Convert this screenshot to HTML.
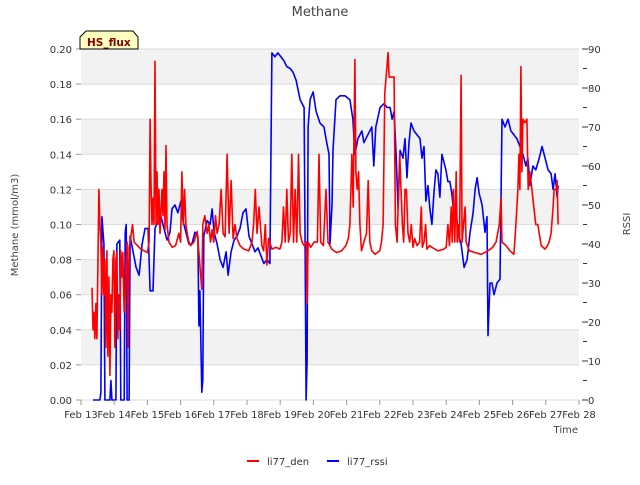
<!DOCTYPE html>
<html><head><meta charset="utf-8"><style>
body{margin:0;background:#fff}
svg text{font-family:"DejaVu Sans","Liberation Sans",sans-serif}
</style></head><body>
<svg id="chart" width="640" height="480" viewBox="0 0 640 480" xmlns="http://www.w3.org/2000/svg">
<g id="bands"></g>
<g id="grid"></g>
<g id="series"></g>
<g id="axes"></g>
<text x="320" y="16" text-anchor="middle" font-size="13" fill="#444">Methane</text>
<g>
<path d="M80,49 L80,37 L86,31 L133,31 L138,37 L138,49 Z" fill="#ffffc0" stroke="#000" stroke-width="1"/>
<text x="87" y="46" font-size="10.5" font-weight="bold" fill="#8b0000">HS_flux</text>
</g>
<text transform="translate(18,225) rotate(-90)" text-anchor="middle" font-size="10" fill="#444">Methane (mmol/m3)</text>
<text transform="translate(630,224) rotate(-90)" text-anchor="middle" font-size="10" fill="#444">RSSI</text>
<text x="578" y="433" text-anchor="end" font-size="10" fill="#444">Time</text>
<g>
<g><line x1="247" y1="461" x2="259" y2="461" stroke="#f00" stroke-width="2"/><text x="267" y="465" font-size="10" fill="#333">li77_den</text></g>
<g><line x1="327" y1="461" x2="339" y2="461" stroke="#00f" stroke-width="2"/><text x="347" y="465" font-size="10" fill="#333">li77_rssi</text></g>
</g>
</svg>
<script>
const xTickLabels=["Feb 13","Feb 14","Feb 15","Feb 16","Feb 17","Feb 18","Feb 19","Feb 20","Feb 21","Feb 22","Feb 23","Feb 24","Feb 25","Feb 26","Feb 27","Feb 28"];
const yTicks=[0,0.02,0.04,0.06,0.08,0.10,0.12,0.14,0.16,0.18,0.20];
const y2Ticks=[0,10,20,30,40,50,60,70,80,90];
const denDays=[0.33,0.36,0.39,0.42,0.45,0.48,0.54,0.57,0.60,0.63,0.66,0.69,0.72,0.75,0.78,0.81,0.84,0.87,0.90,0.93,0.96,0.99,1.02,1.05,1.08,1.11,1.14,1.17,1.20,1.23,1.26,1.30,1.33,1.36,1.39,1.42,1.45,1.48,1.55,1.6,1.7,1.8,2.0,2.05,2.08,2.11,2.14,2.17,2.20,2.23,2.26,2.29,2.32,2.35,2.38,2.44,2.47,2.50,2.53,2.56,2.59,2.65,2.75,2.85,2.95,3.0,3.04,3.08,3.12,3.16,3.20,3.25,3.30,3.40,3.5,3.64,3.67,3.73,3.80,3.85,3.9,3.95,4.0,4.05,4.10,4.16,4.22,4.28,4.34,4.40,4.46,4.52,4.58,4.64,4.70,4.79,4.9,5.05,5.15,5.2,5.25,5.30,5.36,5.40,5.45,5.5,5.55,5.60,5.65,5.75,5.87,5.99,6.05,6.10,6.15,6.20,6.25,6.30,6.35,6.40,6.45,6.50,6.55,6.60,6.66,6.72,6.78,6.81,6.84,6.92,7.02,7.12,7.17,7.22,7.30,7.38,7.44,7.55,7.70,7.85,7.98,8.05,8.10,8.16,8.20,8.25,8.28,8.32,8.36,8.40,8.45,8.52,8.6,8.65,8.70,8.76,8.86,9.0,9.05,9.10,9.15,9.19,9.25,9.28,9.43,9.47,9.52,9.55,9.60,9.64,9.68,9.72,9.76,9.80,9.85,9.9,9.95,10.0,10.05,10.12,10.2,10.25,10.28,10.33,10.38,10.42,10.5,10.57,10.75,10.93,11.0,11.05,11.1,11.15,11.18,11.22,11.26,11.30,11.33,11.36,11.4,11.45,11.48,11.52,11.57,11.6,11.7,11.87,12.05,12.26,12.4,12.5,12.6,12.65,12.68,12.8,12.92,13.04,13.10,13.16,13.19,13.22,13.25,13.28,13.31,13.37,13.43,13.47,13.52,13.58,13.64,13.70,13.76,13.86,13.98,14.05,14.10,14.16,14.22,14.25,14.31,14.34,14.37];
const denValues=[0.064,0.04,0.05,0.035,0.055,0.035,0.12,0.10,0.09,0.06,0.087,0.06,0.08,0.03,0.085,0.025,0.07,0.014,0.06,0.05,0.08,0.085,0.03,0.08,0.084,0.035,0.06,0.04,0.085,0.07,0.084,0.05,0.06,0.08,0.09,0.03,0.087,0.09,0.1,0.09,0.088,0.086,0.084,0.09,0.16,0.12,0.10,0.115,0.10,0.193,0.10,0.13,0.10,0.12,0.095,0.12,0.105,0.13,0.097,0.145,0.10,0.09,0.087,0.088,0.095,0.09,0.13,0.10,0.12,0.10,0.095,0.09,0.088,0.09,0.096,0.063,0.1,0.105,0.095,0.1,0.09,0.097,0.09,0.105,0.095,0.1,0.12,0.095,0.093,0.14,0.095,0.125,0.092,0.1,0.092,0.088,0.086,0.085,0.09,0.1,0.12,0.095,0.11,0.1,0.088,0.085,0.1,0.077,0.092,0.086,0.087,0.086,0.09,0.11,0.09,0.12,0.09,0.095,0.14,0.09,0.12,0.09,0.14,0.095,0.09,0.088,0.09,0.055,0.09,0.087,0.09,0.09,0.14,0.09,0.088,0.12,0.09,0.086,0.084,0.085,0.088,0.092,0.1,0.14,0.11,0.194,0.13,0.12,0.13,0.1,0.085,0.09,0.095,0.125,0.09,0.085,0.083,0.085,0.09,0.10,0.175,0.184,0.198,0.184,0.184,0.10,0.09,0.11,0.14,0.12,0.10,0.09,0.12,0.12,0.095,0.09,0.1,0.087,0.092,0.088,0.09,0.11,0.087,0.09,0.1,0.086,0.088,0.087,0.085,0.086,0.087,0.1,0.088,0.11,0.09,0.12,0.09,0.13,0.09,0.1,0.09,0.185,0.09,0.1,0.11,0.09,0.085,0.084,0.083,0.085,0.087,0.09,0.1,0.115,0.09,0.088,0.085,0.083,0.1,0.12,0.14,0.12,0.19,0.13,0.16,0.158,0.16,0.12,0.13,0.12,0.11,0.1,0.1,0.088,0.086,0.088,0.09,0.095,0.11,0.12,0.12,0.125,0.10];
const rssiDays=[0.36,0.57,0.60,0.63,0.69,0.72,0.87,0.90,0.93,1.05,1.08,1.17,1.20,1.30,1.33,1.36,1.39,1.45,1.48,1.57,1.66,1.75,1.84,1.93,2.02,2.08,2.17,2.23,2.32,2.41,2.50,2.59,2.68,2.74,2.83,2.92,3.01,3.07,3.16,3.25,3.34,3.43,3.52,3.55,3.58,3.64,3.67,3.70,3.80,3.89,3.95,4.01,4.10,4.19,4.28,4.37,4.43,4.52,4.61,4.70,4.79,4.88,4.97,5.06,5.15,5.24,5.33,5.42,5.51,5.60,5.69,5.75,5.84,5.93,6.02,6.11,6.20,6.30,6.39,6.48,6.60,6.72,6.75,6.78,6.81,6.84,6.90,6.99,7.08,7.20,7.32,7.38,7.47,7.50,7.56,7.59,7.68,7.80,7.95,8.10,8.19,8.25,8.34,8.46,8.52,8.64,8.76,8.82,8.88,9.01,9.13,9.22,9.31,9.37,9.43,9.49,9.55,9.61,9.70,9.76,9.82,9.88,9.94,10.03,10.12,10.21,10.27,10.33,10.39,10.45,10.51,10.57,10.63,10.69,10.75,10.81,10.87,10.93,10.99,11.05,11.11,11.17,11.23,11.30,11.36,11.45,11.54,11.63,11.72,11.81,11.87,11.93,11.99,12.08,12.17,12.23,12.26,12.32,12.38,12.44,12.53,12.62,12.68,12.77,12.86,12.95,13.04,13.13,13.22,13.31,13.40,13.46,13.52,13.61,13.70,13.80,13.89,13.98,14.07,14.16,14.22,14.28,14.34,14.37];
const rssiValues=[0,0,2,47,40,0,0,5,0,0,40,41,0,0,43,45,0,0,42,38,34,32,40,44,44,28,28,44,46,47,44,41,43,49,50,48,51,46,43,40,40,43,42,19,28,2,5,42,46,45,49,43,40,36,34,38,32,38,41,42,44,48,49,42,40,38,39,37,35,36,35,89,88,89,88,87,85.5,85,84,82,77,75,40,0,10,70,77,79,74,71,70,67,63,40,50,64,77,78,78,77,72,63,67,69,66,68,70,60,70,75,76,75,75,72,74,63,49,64,62,67,57,66,71,69,68,67,62,65,51,55,49,45,53,59,58,52,63,61,59,56,56,53,48,48,43,40,34,36,43,48,54,57,53,50,43,47,16.5,30,30,27,30,31,72,70,72,69,68,67,65,63,60,62,55,60,59,62,65,62,59,58,54,58,52,55];

const L=81,R=579,T=49,B=400,NS="http://www.w3.org/2000/svg";
const xS=d=>L+(R-L)*d/15;
const yS=v=>B-(B-T)*v/0.2;
const y2S=v=>B-(B-T)*v/90;
function mk(tag,attrs,parent){const e=document.createElementNS(NS,tag);for(const k in attrs)e.setAttribute(k,attrs[k]);parent.appendChild(e);return e;}
const bands=document.getElementById('bands'),grid=document.getElementById('grid'),axes=document.getElementById('axes'),series=document.getElementById('series');
for(let i=0;i<yTicks.length-1;i++){
  if(i%2===1){const r=mk('rect',{x:L,y:yS(yTicks[i+1]),width:R-L,height:yS(yTicks[i])-yS(yTicks[i+1]),fill:'#f2f2f2'},bands);
  
  }
}
yTicks.forEach(v=>{
  const g=mk('line',{x1:L,x2:R,y1:yS(v),y2:yS(v),stroke:'#dcdcdc','stroke-width':1},grid);
  
  
  const t=mk('text',{x:L-9,y:yS(v)+4,'text-anchor':'end','font-size':10,fill:'#333'},axes);
  t.textContent=v.toFixed(2);
  
  
  mk('line',{x1:L-5,x2:L,y1:yS(v),y2:yS(v),stroke:'#999'},axes);
});
for(let v=0;v<=90;v+=5){mk('line',{x1:R+(v%10===0?3:4),x2:R+(v%10===0?9:8),y1:y2S(v),y2:y2S(v),stroke:'#333'},axes);}
y2Ticks.forEach(v=>{
  const t=mk('text',{x:R+9,y:y2S(v)+4,'font-size':10,fill:'#333'},axes);
  t.textContent=v;
  
  
});
xTickLabels.forEach((s,i)=>{
  mk('line',{x1:xS(i),x2:xS(i),y1:B,y2:B+5,stroke:'#999'},axes);
  const t=mk('text',{x:xS(i),y:B+18,'text-anchor':'middle','font-size':10,fill:'#333'},axes);
  t.textContent=s;
  
  
});
function path(xs,ys,ysc,color,name){
  const d=xs.map((x,i)=>(i?'L':'M')+xS(x).toFixed(1)+','+ysc(ys[i]).toFixed(1)).join('');
  const p=mk('path',{d:d,fill:'none',stroke:color,'stroke-width':1.6,'stroke-linejoin':'round'},series);
  
  
}
path(rssiDays,rssiValues,y2S,'#0000ff','rssi-line');
path(denDays,denValues,yS,'#ff0000','den-line');
</script>
</body></html>
